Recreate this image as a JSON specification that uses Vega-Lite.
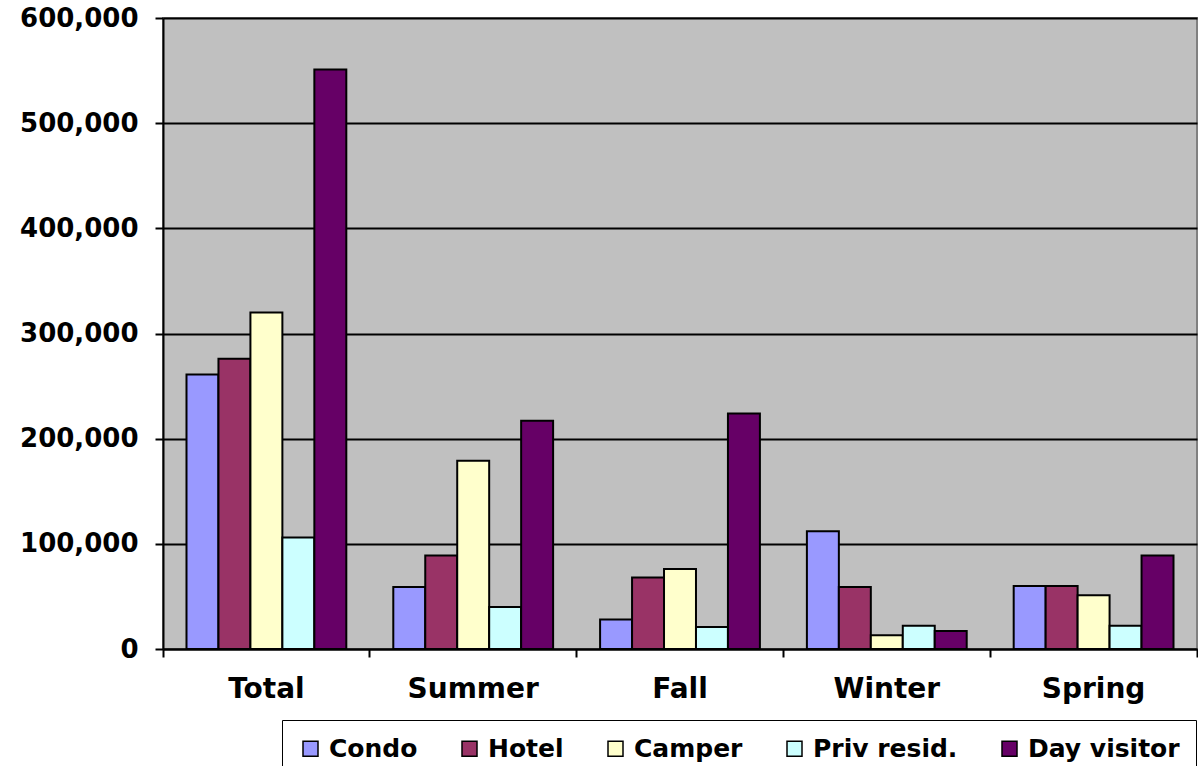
{
  "$schema": "https://vega.github.io/schema/vega-lite/v6.json",
  "autosize": {"type": "none"},
  "width": 1034,
  "height": 631,
  "padding": {"left": 163, "top": 18, "right": 1, "bottom": 117},
  "background": "white",
  "config": {
    "view": {"fill": "#C0C0C0", "stroke": "#808080", "strokeWidth": 2},
    "font": "DejaVu Sans"
  },
  "data": {
    "values": [
      {"season": "Total", "type": "Condo", "visitors": 261000},
      {"season": "Total", "type": "Hotel", "visitors": 276000},
      {"season": "Total", "type": "Camper", "visitors": 320000},
      {"season": "Total", "type": "Priv resid.", "visitors": 106000},
      {"season": "Total", "type": "Day visitor", "visitors": 551000},
      {"season": "Summer", "type": "Condo", "visitors": 59000},
      {"season": "Summer", "type": "Hotel", "visitors": 89000},
      {"season": "Summer", "type": "Camper", "visitors": 179000},
      {"season": "Summer", "type": "Priv resid.", "visitors": 40000},
      {"season": "Summer", "type": "Day visitor", "visitors": 217000},
      {"season": "Fall", "type": "Condo", "visitors": 28000},
      {"season": "Fall", "type": "Hotel", "visitors": 68000},
      {"season": "Fall", "type": "Camper", "visitors": 76000},
      {"season": "Fall", "type": "Priv resid.", "visitors": 21000},
      {"season": "Fall", "type": "Day visitor", "visitors": 224000},
      {"season": "Winter", "type": "Condo", "visitors": 112000},
      {"season": "Winter", "type": "Hotel", "visitors": 59000},
      {"season": "Winter", "type": "Camper", "visitors": 13000},
      {"season": "Winter", "type": "Priv resid.", "visitors": 22000},
      {"season": "Winter", "type": "Day visitor", "visitors": 17000},
      {"season": "Spring", "type": "Condo", "visitors": 60000},
      {"season": "Spring", "type": "Hotel", "visitors": 60000},
      {"season": "Spring", "type": "Camper", "visitors": 51000},
      {"season": "Spring", "type": "Priv resid.", "visitors": 22000},
      {"season": "Spring", "type": "Day visitor", "visitors": 89000}
    ]
  },
  "mark": {"type": "bar", "stroke": "black", "strokeWidth": 2},
  "encoding": {
    "x": {
      "field": "season",
      "type": "nominal",
      "sort": ["Total", "Summer", "Fall", "Winter", "Spring"],
      "scale": {"paddingInner": 0, "paddingOuter": 0},
      "axis": {
        "title": null,
        "labelAngle": 0,
        "labelFont": "DejaVu Sans",
        "labelFontWeight": "bold",
        "labelFontSize": 28,
        "labelColor": "black",
        "labelPadding": 18,
        "domainColor": "black",
        "domainWidth": 2,
        "tickColor": "black",
        "tickWidth": 2,
        "tickSize": 8,
        "bandPosition": 1,
        "tickExtra": true,
        "grid": false
      }
    },
    "xOffset": {
      "field": "type",
      "type": "nominal",
      "sort": ["Condo", "Hotel", "Camper", "Priv resid.", "Day visitor"],
      "scale": {"paddingInner": 0, "paddingOuter": 0.735}
    },
    "y": {
      "field": "visitors",
      "type": "quantitative",
      "scale": {"domain": [0, 600000], "nice": false},
      "axis": {
        "title": null,
        "values": [0, 100000, 200000, 300000, 400000, 500000, 600000],
        "format": ",d",
        "labelFont": "DejaVu Sans",
        "labelFontWeight": "bold",
        "labelFontSize": 26,
        "labelColor": "black",
        "labelPadding": 17,
        "domainColor": "black",
        "domainWidth": 2,
        "tickColor": "black",
        "tickWidth": 2,
        "tickSize": 8,
        "grid": true,
        "gridColor": "black",
        "gridWidth": 2,
        "gridOpacity": 1
      }
    },
    "color": {
      "field": "type",
      "type": "nominal",
      "scale": {
        "domain": ["Condo", "Hotel", "Camper", "Priv resid.", "Day visitor"],
        "range": ["#9999FF", "#993366", "#FFFFCC", "#CCFFFF", "#660066"]
      },
      "legend": {
        "title": null,
        "orient": "none",
        "direction": "horizontal",
        "legendX": 119,
        "legendY": 702,
        "padding": 16,
        "strokeColor": "black",
        "fillColor": "white",
        "symbolType": "square",
        "symbolSize": 225,
        "symbolStrokeColor": "black",
        "symbolStrokeWidth": 1.5,
        "symbolOpacity": 1,
        "labelFont": "DejaVu Sans",
        "labelFontWeight": "bold",
        "labelFontSize": 25,
        "labelColor": "black",
        "labelOffset": 6,
        "columnPadding": 39,
        "labelLimit": 300
      }
    }
  }
}
